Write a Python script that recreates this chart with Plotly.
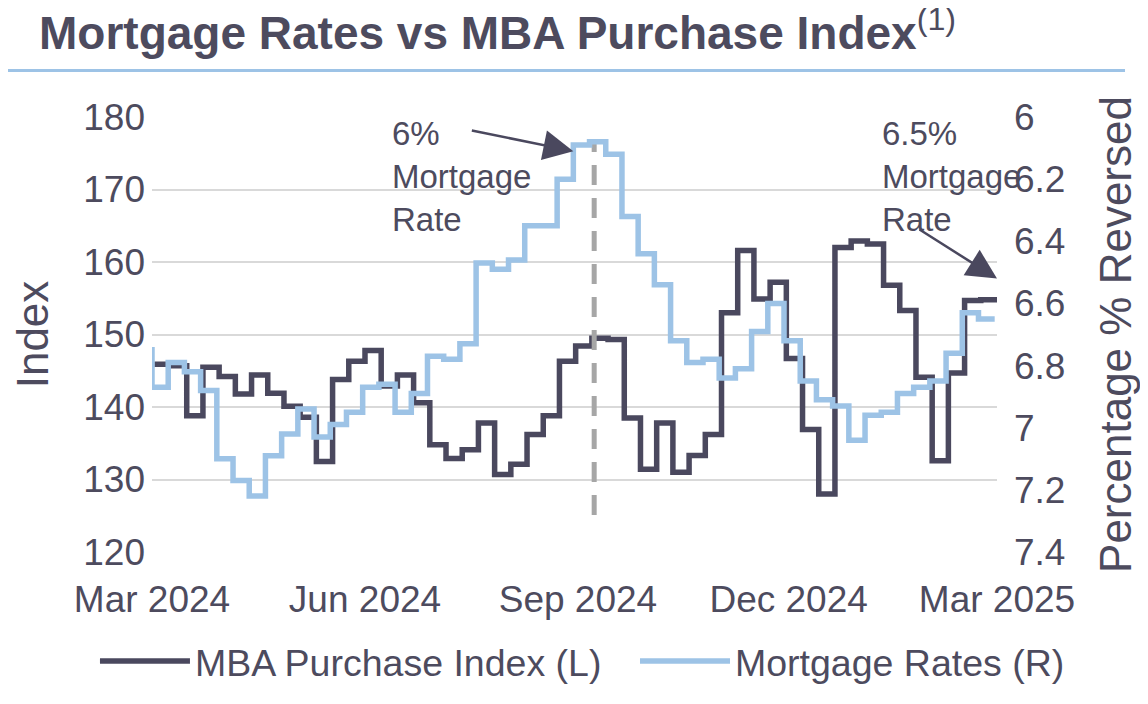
import pandas as pd
import plotly.graph_objects as go

# weekly series, dates mark the end of each weekly step
weekEnds = pd.date_range("2024-03-01", periods=53, freq="7D")
mbaDates = weekEnds + pd.Timedelta(days=1)

mortgageRates = [6.74, 6.87, 6.79, 6.82, 6.88, 7.10, 7.17, 7.22, 7.09, 7.02, 6.94, 7.03, 6.99,
                 6.95, 6.87, 6.86, 6.95, 6.89, 6.77, 6.78, 6.73, 6.47, 6.49, 6.46, 6.35, 6.35,
                 6.20, 6.09, 6.08, 6.12, 6.32, 6.44, 6.54, 6.72, 6.79, 6.78, 6.84, 6.81, 6.69,
                 6.60, 6.72, 6.85, 6.91, 6.93, 7.04, 6.96, 6.95, 6.89, 6.87, 6.85, 6.76, 6.63, 6.65]

mbaIndex = [145.9, 145.9, 145.7, 138.8, 145.5, 144.2, 141.8, 144.4, 141.9, 140.1, 138.6, 132.5,
            143.8, 146.3, 147.8, 142.9, 144.4, 140.6, 134.8, 132.9, 134.1, 137.8, 130.7, 132.1,
            136.2, 138.8, 146.3, 148.4, 149.5, 149.3, 138.5, 131.4, 137.8, 131.0, 133.3, 136.2,
            153.0, 161.6, 154.9, 157.2, 146.7, 136.9, 128.0, 162.0, 162.9, 162.5, 156.8, 153.3,
            144.1, 132.6, 144.7, 154.7, 154.8]

xTickDates = ["2024-03-01", "2024-06-01", "2024-09-01", "2024-12-01", "2025-03-01"]
xTickLabels = ["Mar 2024", "Jun 2024", "Sep 2024", "Dec 2024", "Mar 2025"]
leftTicks = [120, 130, 140, 150, 160, 170, 180]
rightTicks = [6, 6.2, 6.4, 6.6, 6.8, 7, 7.2, 7.4]
rightTickLabels = ["6", "6.2", "6.4", "6.6", "6.8", "7", "7.2", "7.4"]

# 6% low marker line
markerDate = "2024-09-08"
markerRange = [125.1, 176.3]

darkColor = "#4a485e"
lightColor = "#9dc3e6"
textColor = "#4d4b5e"
fontFamily = "Arial, Liberation Sans, sans-serif"

# page body has an 8px margin, so the figure is a bit smaller than the window
W, H = 1140, 696

fig = go.Figure()
fig.add_trace(go.Scatter(x=mbaDates, y=mbaIndex, mode="lines", line_shape="vh",
                         line=dict(color=darkColor, width=5.5), name="MBA Purchase Index (L)",
                         legend="legend"))
fig.add_trace(go.Scatter(x=weekEnds, y=mortgageRates, mode="lines", line_shape="vh", yaxis="y2",
                         line=dict(color=lightColor, width=5.5), name="Mortgage Rates (R)",
                         legend="legend2"))
fig.add_trace(go.Scatter(x=[markerDate, markerDate], y=markerRange, mode="lines",
                         line=dict(color="#a6a6a6", width=5, dash="20px,13px"),
                         showlegend=False, hoverinfo="skip"))

legendStyle = dict(orientation="h", xanchor="left", yref="paper", y=-0.251, yanchor="middle",
                   font=dict(size=37.5), itemwidth=90, bgcolor="rgba(0,0,0,0)")

fig.update_layout(
    width=W, height=H,
    margin=dict(l=144, r=151, t=109, b=149),
    paper_bgcolor="white", plot_bgcolor="white",
    font=dict(family=fontFamily, size=37, color=textColor),
    title=dict(text="<b>Mortgage Rates vs MBA Purchase Index</b><sup>(1)</sup>",
               x=31 / W, xanchor="left", xref="container",
               y=1 - 25 / H, yanchor="middle", yref="container",
               font=dict(size=46, color=textColor)),
    xaxis=dict(type="date", range=["2024-03-01", "2025-03-01"], tickvals=xTickDates,
               ticktext=xTickLabels, showgrid=False, zeroline=False, showline=False,
               ticklabelstandoff=22, automargin=False),
    yaxis=dict(range=[120, 180], tickvals=leftTicks, showgrid=True, gridcolor="#d9d9d9",
               gridwidth=2, zeroline=False, showline=False, ticklabelstandoff=6,
               automargin=False, title=dict(text="Index", standoff=34)),
    yaxis2=dict(range=[7.4, 6], overlaying="y", side="right", tickvals=rightTicks,
                ticktext=rightTickLabels, showgrid=False, zeroline=False, showline=False,
                ticklabelstandoff=16, automargin=False,
                title=dict(text="Percentage % Reversed", standoff=35)),
    legend=dict(legendStyle, x=-0.0675),
    legend2=dict(legendStyle, x=0.5716),
    showlegend=True,
)

# rule under title
fig.add_shape(type="line", xref="paper", yref="paper", x0=-0.1716, x1=1.1515, y0=1.107, y1=1.107,
              line=dict(color=lightColor, width=3))

fig.add_annotation(text="6%<br>Mortgage<br>Rate", xref="paper", yref="paper", x=0.2817, y=0.863,
                   xanchor="left", yanchor="middle", align="left", showarrow=False,
                   font=dict(size=33, color=textColor))
fig.add_annotation(text="6.5%<br>Mortgage<br>Rate", xref="paper", yref="paper", x=0.8615, y=0.863,
                   xanchor="left", yanchor="middle", align="left", showarrow=False,
                   font=dict(size=33, color=textColor))
fig.add_annotation(text="", x="2024-08-30", y=6.11, xref="x", yref="y2", ax=-103, ay=-21,
                   showarrow=True, arrowhead=2, arrowsize=2.4, arrowwidth=2.5, arrowcolor=darkColor)
fig.add_annotation(text="", x="2025-03-01", y=6.52, xref="x", yref="y2", ax=-79, ay=-50,
                   showarrow=True, arrowhead=2, arrowsize=2.4, arrowwidth=2.5, arrowcolor=darkColor)

fig.write_html("out.html")
